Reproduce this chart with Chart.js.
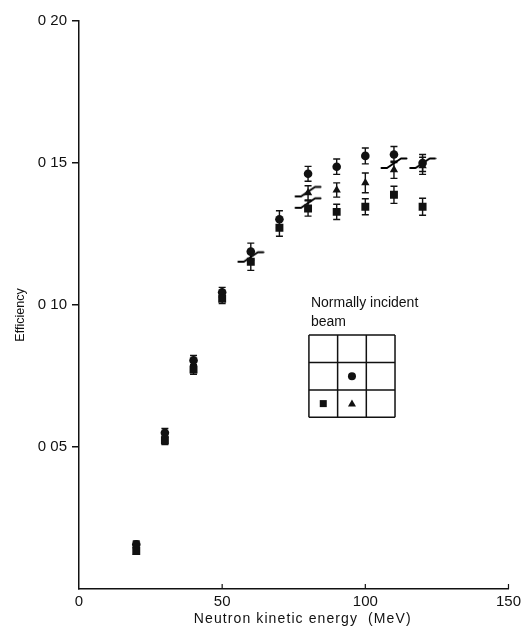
<!DOCTYPE html>
<html>
<head>
<meta charset="utf-8">
<script src="https://cdn.jsdelivr.net/npm/chart.js@4.4.1/dist/chart.umd.min.js"></script>
<style>
  html, body { margin: 0; padding: 0; background: #fff; }
  #wrap { width: 525px; height: 637px; }
</style>
</head>
<body>
<div id="wrap"><canvas id="c" width="525" height="637"></canvas></div>
<script>
// Neutron kinetic energy (MeV) of each measurement
const energies = [20, 30, 40, 50, 60, 70, 80, 90, 100, 110, 120];
const energiesTri = [80, 90, 100, 110, 120];

// Efficiency of the centre cell (circle), the cell below it (triangle) and the lower-left cell (square)
const effCircle = [0.0157, 0.0550, 0.0805, 0.1045, 0.1188, 0.1302, 0.1462, 0.1487, 0.1525, 0.1530, 0.1500];
const errCircle = [0.0012, 0.0015, 0.0017, 0.0017, 0.0030, 0.0030, 0.0026, 0.0027, 0.0028, 0.0028, 0.0030];
const effSquare = [0.0134, 0.0524, 0.0773, 0.1022, 0.1152, 0.1272, 0.1340, 0.1328, 0.1346, 0.1388, 0.1346];
const errSquare = [0.0012, 0.0015, 0.0017, 0.0017, 0.0030, 0.0030, 0.0027, 0.0027, 0.0028, 0.0030, 0.0030];
const effTriangle = [0.1395, 0.1405, 0.1430, 0.1476, 0.1490];
const errTriangle = [0.0025, 0.0025, 0.0035, 0.0030, 0.0030];

// Positions of the slanted overlap marks
const overlapE = [60, 80, 80, 110, 120];
const overlapEff = [0.1170, 0.1400, 0.1360, 0.1500, 0.1500];

// Axis ticks and titles
const xTicks = [0, 50, 100, 150];
const yTicks = [0.05, 0.10, 0.15, 0.20];
const yTickLabels = ['0 05', '0 10', '0 15', '0 20'];
const xTitle = 'Neutron kinetic energy  (MeV)';
const yTitle = 'Efficiency';

const FONT = '"Liberation Sans", Arial, sans-serif';
const INK = '#111';

const pts = (xs, ys) => xs.map((x, i) => ({ x, y: ys[i] }));

// slanted "Z" glyph used as a point style
function makeOverlapGlyph() {
  const cv = document.createElement('canvas');
  cv.width = 28; cv.height = 14;
  const g = cv.getContext('2d');
  g.strokeStyle = '#000'; g.lineWidth = 2; g.lineCap = 'round'; g.lineJoin = 'round';
  g.beginPath();
  g.moveTo(1.5, 12); g.lineTo(7, 12); g.lineTo(21, 2.5); g.lineTo(26.5, 2.5);
  g.stroke();
  return cv;
}

// vertical error bars with short caps
const errorBars = {
  id: 'errorBars',
  beforeDatasetsDraw(chart) {
    const { ctx, scales: { x, y } } = chart;
    ctx.save();
    ctx.strokeStyle = INK;
    ctx.lineWidth = 1.4;
    chart.data.datasets.forEach((ds) => {
      if (!ds.errors) return;
      ds.data.forEach((p, i) => {
        const e = ds.errors[i];
        const px = x.getPixelForValue(p.x);
        const top = y.getPixelForValue(p.y + e);
        const bot = y.getPixelForValue(p.y - e);
        ctx.beginPath();
        ctx.moveTo(px, top); ctx.lineTo(px, bot);
        ctx.moveTo(px - 3.5, top); ctx.lineTo(px + 3.5, top);
        ctx.moveTo(px - 3.5, bot); ctx.lineTo(px + 3.5, bot);
        ctx.stroke();
      });
    });
    ctx.restore();
  }
};

// small inward tick marks on the energy axis, and the two axis titles
const axisDecor = {
  id: 'axisDecor',
  afterDraw(chart) {
    const { ctx, scales: { x }, chartArea } = chart;
    ctx.save();
    ctx.strokeStyle = INK; ctx.lineWidth = 1.2;
    xTicks.slice(1).forEach((v) => {
      const px = x.getPixelForValue(v);
      ctx.beginPath();
      ctx.moveTo(px, chartArea.bottom);
      ctx.lineTo(px, chartArea.bottom - 5);
      ctx.stroke();
    });
    ctx.fillStyle = INK;
    ctx.textAlign = 'center';
    ctx.textBaseline = 'middle';
    ctx.font = '14px ' + FONT;
    ctx.letterSpacing = '1.1px';
    ctx.fillText(xTitle, (chartArea.left + chartArea.right) / 2 + 9, chartArea.bottom + 30);
    ctx.letterSpacing = '0px';
    ctx.font = '12.5px ' + FONT;
    ctx.translate(21, (chartArea.top + chartArea.bottom) / 2 + 10);
    ctx.rotate(-Math.PI / 2);
    ctx.fillText(yTitle, 0, 0);
    ctx.restore();
  }
};

// inset key: 3x3 cell array with the three measured cells marked
const cellKey = {
  id: 'cellKey',
  afterDraw(chart) {
    const { ctx, scales: { x, y } } = chart;
    const left = x.getPixelForValue(80.3);
    const top = y.getPixelForValue(0.0894);
    const cw = 28.7, ch = 27.4;
    ctx.save();
    ctx.fillStyle = INK;
    ctx.font = '14px ' + FONT;
    ctx.textBaseline = 'middle';
    ctx.fillText('Normally incident', left + 2, top - 32);
    ctx.fillText('beam', left + 2, top - 13);
    ctx.strokeStyle = INK; ctx.lineWidth = 1.5;
    for (let i = 0; i <= 3; i++) {
      ctx.beginPath();
      ctx.moveTo(left + i * cw, top); ctx.lineTo(left + i * cw, top + 3 * ch);
      ctx.moveTo(left, top + i * ch); ctx.lineTo(left + 3 * cw, top + i * ch);
      ctx.stroke();
    }
    const cx = (c) => left + (c + 0.5) * cw;
    const cy = (r) => top + (r + 0.5) * ch;
    ctx.beginPath(); ctx.arc(cx(1), cy(1), 4, 0, Math.PI * 2); ctx.fill();
    ctx.fillRect(cx(0) - 3.5, cy(2) - 3.5, 7, 7);
    ctx.beginPath();
    ctx.moveTo(cx(1), cy(2) - 4); ctx.lineTo(cx(1) + 4, cy(2) + 3); ctx.lineTo(cx(1) - 4, cy(2) + 3);
    ctx.closePath(); ctx.fill();
    ctx.restore();
  }
};

const marker = { backgroundColor: INK, borderColor: INK, borderWidth: 0, showLine: false };

new Chart(document.getElementById('c'), {
  type: 'scatter',
  data: {
    datasets: [
      { label: 'square', data: pts(energies, effSquare), errors: errSquare, pointStyle: 'rect', pointRadius: 5.6, ...marker },
      { label: 'triangle', data: pts(energiesTri, effTriangle), errors: errTriangle, pointStyle: 'triangle', pointRadius: 4.8, ...marker },
      { label: 'circle', data: pts(energies, effCircle), errors: errCircle, pointStyle: 'circle', pointRadius: 4.3, ...marker },
      { label: 'overlap', data: pts(overlapE, overlapEff), pointStyle: makeOverlapGlyph(), pointRadius: 6, ...marker }
    ]
  },
  options: {
    responsive: false,
    animation: false,
    events: [],
    layout: { padding: { left: 0, right: 14, top: 21, bottom: 0 } },
    plugins: { legend: { display: false }, tooltip: { enabled: false } },
    scales: {
      x: {
        type: 'linear', min: 0, max: 150,
        afterFit: (s) => { s.height = 48; },
        afterBuildTicks: (s) => { s.ticks = xTicks.map((v) => ({ value: v })); },
        grid: { display: false, drawTicks: false, tickLength: 0 },
        border: { display: true, color: INK, width: 1.5 },
        ticks: { color: INK, font: { family: FONT, size: 15 }, padding: 4, maxRotation: 0,
                 callback: (v) => String(v) },
        title: { display: false }
      },
      y: {
        type: 'linear', min: 0, max: 0.20,
        afterFit: (s) => { s.width = 79; },
        afterBuildTicks: (s) => { s.ticks = yTicks.map((v) => ({ value: v })); },
        grid: { drawOnChartArea: false, drawTicks: true, tickLength: 7, color: INK, lineWidth: 1.5 },
        border: { display: true, color: INK, width: 1.5 },
        ticks: { color: INK, font: { family: FONT, size: 15 }, padding: 5,
                 callback: (v) => yTickLabels[yTicks.findIndex((t) => Math.abs(t - v) < 1e-9)] },
        title: { display: false }
      }
    }
  },
  plugins: [errorBars, axisDecor, cellKey]
});
</script>
</body>
</html>
